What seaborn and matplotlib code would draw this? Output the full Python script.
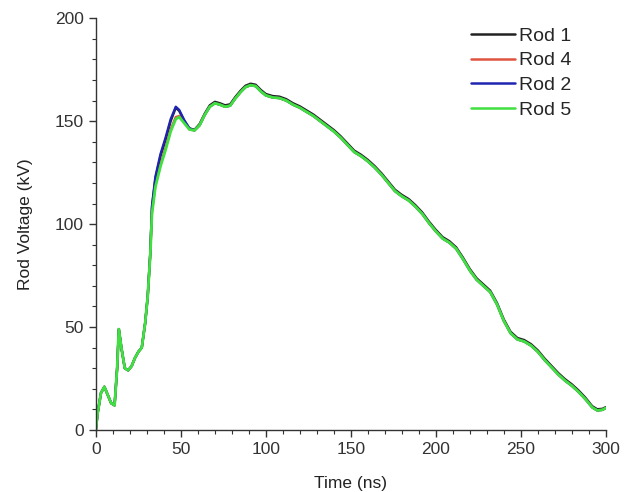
import numpy as np
import pandas as pd
import matplotlib
matplotlib.use("Agg")
import matplotlib.pyplot as plt
from matplotlib.ticker import MultipleLocator
import seaborn as sns

# ---- data ----
time_early = [0, 1, 3, 5, 7, 9, 11, 12.5, 13.5, 15, 17, 19, 21, 23, 25, 27, 29, 30.5, 32, 33,
              35, 38, 41, 44, 47, 49, 52, 55, 58]
rod1_early = [0, 8, 18, 21, 17, 13, 12, 30, 49, 40, 30, 29, 31, 35, 38, 40, 52, 65, 86, 108,
              122, 133, 141, 150, 156.5, 155, 150, 146.5, 145.8]
rod4_early = [0, 8, 18, 21, 17, 13, 12, 30, 49, 40, 30, 29, 31, 35, 38, 40, 52, 65, 85, 106,
              119, 129, 137, 146, 152, 152.5, 149.5, 146, 145.5]
rod2_early = [0, 8, 18, 21, 17, 13, 12, 30, 49, 40, 30, 29, 31, 35, 38, 40, 52, 65, 86, 109,
              123, 134, 142, 151, 157, 155.5, 150.5, 146.5, 145.5]
rod5_early = [0, 8, 18, 21, 17, 13, 12, 30, 49, 40, 30, 29, 31, 35, 38, 40, 52, 65, 85, 105,
              118, 128, 136, 145, 151, 152, 149, 146, 145.5]

time_tail = [61, 64, 67, 70, 73, 76, 79, 82, 85, 88, 91, 94, 97, 100, 104, 108, 112, 116, 120,
             124, 128, 132, 136, 140, 144, 148, 152, 156, 160, 164, 168, 172, 176, 180, 184,
             188, 192, 196, 200, 204, 208, 212, 216, 220, 224, 228, 232, 236, 240, 244, 248,
             252, 256, 260, 264, 268, 272, 276, 280, 284, 288, 292, 295, 298, 300]
common_tail = [148, 153, 157, 158.7, 158, 157, 157.5, 161, 164, 166.5, 167.5, 167, 164.5, 162.5,
               161.5, 161.2, 160, 158, 156.5, 154.5, 152.5, 150, 147.5, 145, 142, 138.5, 135,
               133, 130.5, 127.5, 124, 120, 116, 113.5, 111.5, 108.5, 105, 100.5, 96.5, 93, 91,
               88, 83, 77.5, 73, 70, 67, 61, 53, 47, 44, 43, 41, 38, 34, 30.5, 27, 24, 21.5,
               18.5, 15, 11, 9.5, 9.8, 10.7]
rod1_tail = [148.6, 153.6, 157.7, 159.4, 158.7, 157.7, 158.2, 161.7, 164.7, 167.2, 168.2, 167.7,
             165.2, 163.2, 162.2, 161.9, 160.7, 158.7, 157.2, 155.2, 153.2, 150.7, 148.2, 145.7,
             142.7, 139.2, 135.7, 133.7, 131.2, 128.2, 124.7, 120.7, 116.7, 114.2, 112.2, 109.2,
             105.7, 101.2, 97.2, 93.7, 91.7, 88.7, 83.7, 78.2, 73.7, 70.7, 67.7, 61.7, 53.7,
             47.7, 44.7, 43.7, 41.7, 38.7, 34.7, 31.2, 27.7, 24.7, 22.2, 19.2, 15.7, 11.6, 10.1,
             10.3, 11.1]

rod_names = ["Rod 1", "Rod 4", "Rod 2", "Rod 5"]
rod_early = {"Rod 1": rod1_early, "Rod 4": rod4_early, "Rod 2": rod2_early, "Rod 5": rod5_early}
rod_tail = {"Rod 1": rod1_tail, "Rod 4": common_tail, "Rod 2": common_tail, "Rod 5": common_tail}
rod_colors = {"Rod 1": "#222222", "Rod 4": "#e0533e", "Rod 2": "#1f25b0", "Rod 5": "#40e040"}

frames = []
for name in rod_names:
    frames.append(pd.DataFrame({
        "Time (ns)": time_early + time_tail,
        "Rod Voltage (kV)": rod_early[name] + rod_tail[name],
        "Rod": name,
    }))
df = pd.concat(frames, ignore_index=True)

sns.set_theme(style="ticks")
plt.rcParams["font.family"] = ["Liberation Sans", "DejaVu Sans"]

fig = plt.figure(figsize=(6.35, 4.92), dpi=100)
ax = fig.add_axes([0.151, 0.126, 0.803, 0.837])

sns.lineplot(data=df, x="Time (ns)", y="Rod Voltage (kV)", hue="Rod", hue_order=rod_names,
             palette=rod_colors, sort=False, estimator=None, linewidth=1.7, ax=ax)
# green drawn a touch wider so its edges frame the dark core
ax.get_lines()[3].set_linewidth(2.0)

ax.set_xlim(0, 300)
ax.set_ylim(0, 200)
ax.xaxis.set_major_locator(MultipleLocator(50))
ax.xaxis.set_minor_locator(MultipleLocator(10))
ax.yaxis.set_major_locator(MultipleLocator(50))
ax.yaxis.set_minor_locator(MultipleLocator(10))
ax.tick_params(which="major", direction="out", length=5, width=1, colors="#333333",
               labelsize=12.5, labelcolor="#333333")
ax.tick_params(which="minor", direction="out", length=3, width=0.8, colors="#333333")
for s in ["top", "right"]:
    ax.spines[s].set_visible(False)
for s in ["left", "bottom"]:
    ax.spines[s].set_color("#333333")
    ax.spines[s].set_linewidth(1)

ax.set_xlabel("Time (ns)", fontsize=12.5, color="#222222", labelpad=14)
ax.set_ylabel("Rod Voltage (kV)", fontsize=12.5, color="#222222", labelpad=16)

leg = ax.legend(loc="upper left", bbox_to_anchor=(0.735, 0.978), frameon=False, fontsize=14,
                handlelength=2.3, handletextpad=0.2, labelspacing=0.36, borderaxespad=0,
                borderpad=0)
for line in leg.get_lines():
    line.set_linewidth(1.8)

fig.savefig("out.png", dpi=100)
